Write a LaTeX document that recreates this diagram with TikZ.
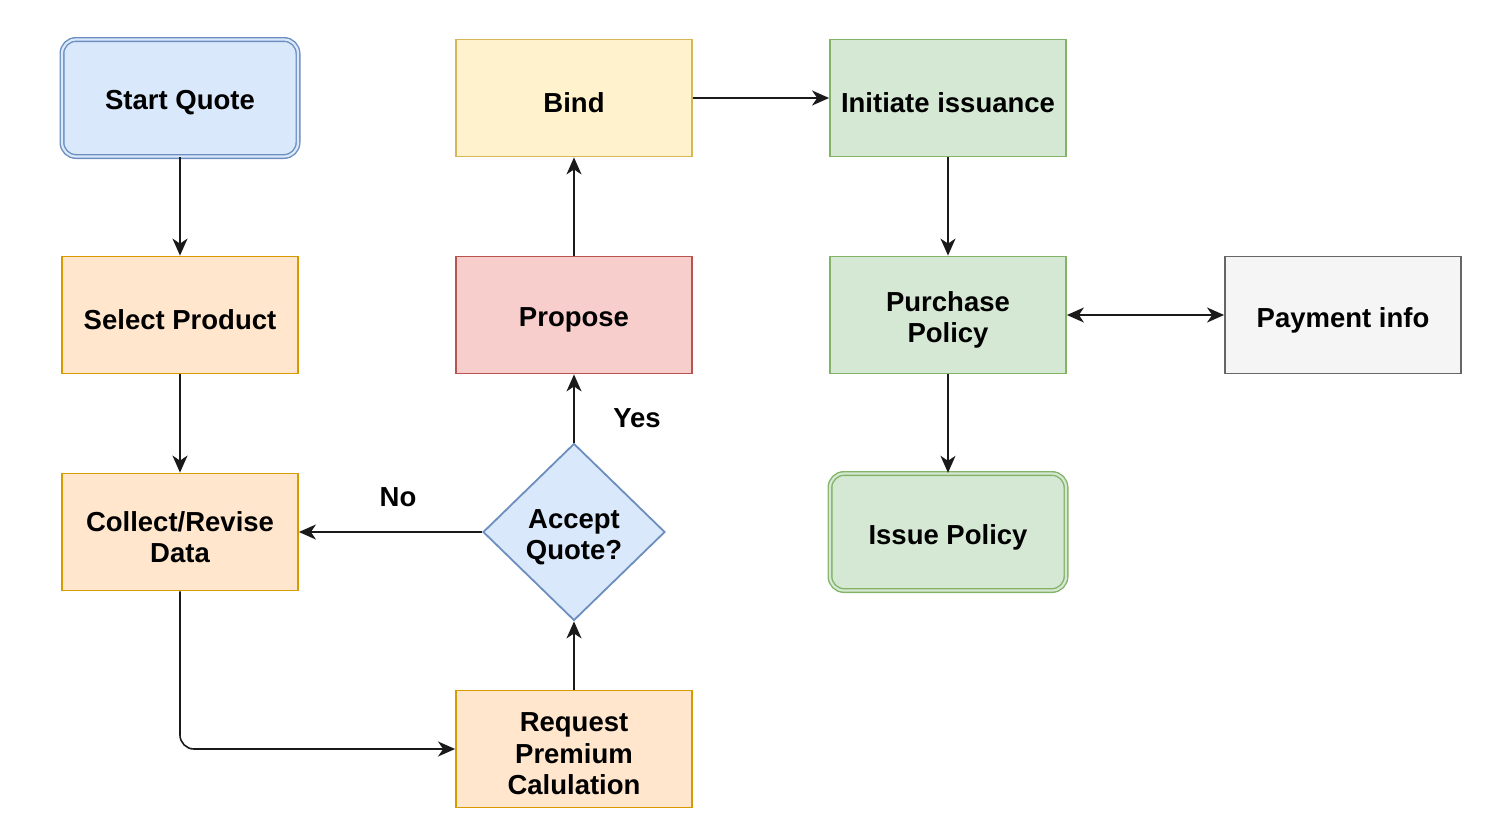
\documentclass[tikz,border=0pt]{standalone}
\usepackage{fontspec}
\setmainfont{Liberation Sans}
\usetikzlibrary{shapes.geometric,arrows.meta}
\definecolor{bluef}{HTML}{DAE8FC}\definecolor{blued}{HTML}{6C8EBF}
\definecolor{yelf}{HTML}{FFF2CC}\definecolor{yeld}{HTML}{D6B656}
\definecolor{grnf}{HTML}{D5E8D4}\definecolor{grnd}{HTML}{82B366}
\definecolor{orf}{HTML}{FFE6CC}\definecolor{ord}{HTML}{D79B00}
\definecolor{redf}{HTML}{F8CECC}\definecolor{redd}{HTML}{B85450}
\definecolor{gryf}{HTML}{F5F5F5}\definecolor{gryd}{HTML}{666666}
\definecolor{lnc}{HTML}{1A1A1A}
\begin{document}
\begin{tikzpicture}[x=1pt,y=-1pt,
  >={Stealth[length=17pt,width=15pt,inset=5pt]},
  every node/.style={font=\fontsize{27.5}{31.5}\selectfont\bfseries, align=center, inner sep=0pt},
  box/.style={rectangle, minimum width=236pt, minimum height=117pt, line width=1.8pt},
  txt/.style={label={[yshift=-5pt]center:#1}},
  dbl/.style={rounded corners=14pt, double=#1, double distance=2.2pt, line width=1.4pt},
  conn/.style={draw=lnc, line width=1.6pt, ->},
]
\useasboundingbox (0,0) rectangle (1485,827);
\node[box, fill=bluef, draw=blued, dbl=bluef, txt={Start Quote}] (start) at (180,98) {};
\node[box, fill=yelf, draw=yeld, txt={Bind}] (bind) at (574,98) {};
\node[box, fill=grnf, draw=grnd, txt={Initiate issuance}] (init) at (948,98) {};
\node[box, fill=orf, draw=ord, txt={Select Product}] (sel) at (180,315) {};
\node[box, fill=redf, draw=redd, txt={Propose}] (prop) at (574,315) {};
\node[box, fill=grnf, draw=grnd, txt={Purchase\\Policy}] (purch) at (948,315) {};
\node[box, fill=gryf, draw=gryd, txt={Payment info}] (pay) at (1343,315) {};
\node[box, fill=orf, draw=ord, txt={Collect/Revise\\Data}] (coll) at (180,532) {};
\node[diamond, aspect=1.03, minimum width=182pt, minimum height=177pt, fill=bluef, draw=blued, line width=1.8pt, txt={Accept\\Quote?}] (acc) at (574,532) {};
\node[box, fill=grnf, draw=grnd, dbl=grnf, txt={Issue Policy}] (issue) at (948,532) {};
\node[box, fill=orf, draw=ord, txt={Request\\Premium\\Calulation}] (req) at (574,749) {};
\node (yes) at (637,418) {Yes};
\node (no) at (398,497) {No};
\draw[conn] (start) -- (sel);
\draw[conn] (sel) -- (coll);
\draw[conn, rounded corners=14pt] (coll.south) -- (coll.south |- req.west) -- (req.west);
\draw[conn] (req) -- (acc);
\draw[conn] (acc) -- (prop);
\draw[conn] (acc) -- (coll);
\draw[conn] (prop) -- (bind);
\draw[conn] (bind) -- (init);
\draw[conn] (init) -- (purch);
\draw[conn, <->] (purch) -- (pay);
\draw[conn] (purch) -- (issue);
\end{tikzpicture}
\end{document}
